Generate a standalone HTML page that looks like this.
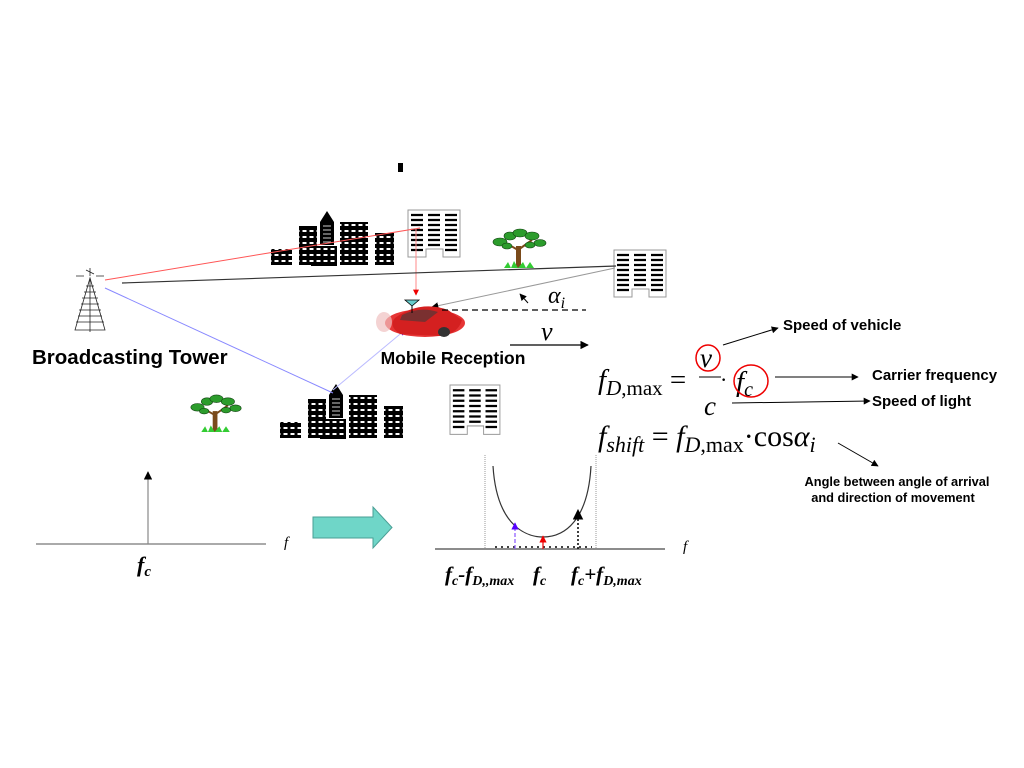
<!DOCTYPE html>
<html><head><meta charset="utf-8"><style>
html,body{margin:0;padding:0;background:#fff;}
svg{display:block;}
.b{font-family:"Liberation Sans",sans-serif;font-weight:bold;}
.m{font-family:"Liberation Serif",serif;}
</style></head><body>
<svg width="1024" height="768" viewBox="0 0 1024 768" xmlns="http://www.w3.org/2000/svg">
<defs>
<marker id="ah" viewBox="0 0 10 10" refX="9" refY="5" markerWidth="7" markerHeight="7" orient="auto"><path d="M0,0 L10,5 L0,10 z" fill="#000"/></marker>
<marker id="ahr" viewBox="0 0 10 10" refX="9" refY="5" markerWidth="6" markerHeight="6" orient="auto"><path d="M0,0 L10,5 L0,10 z" fill="#e00"/></marker>
<marker id="ahb" viewBox="0 0 10 10" refX="9" refY="5" markerWidth="6" markerHeight="6" orient="auto"><path d="M0,0 L10,5 L0,10 z" fill="#50f"/></marker>
<pattern id="win" width="7" height="6" patternUnits="userSpaceOnUse"><rect x="1.5" y="2" width="4" height="2" fill="#fff"/></pattern>
<g id="cluster">
<rect x="271" y="249" width="21" height="16" fill="#000"/><rect x="271" y="249" width="21" height="16" fill="url(#win)"/>
<rect x="299" y="226" width="18" height="39" fill="#000"/><rect x="299" y="226" width="18" height="39" fill="url(#win)"/>
<path d="M320,245 V222 L327,211 L334,222 V245 z" fill="#000"/>
<g stroke="#fff" stroke-width="0.8"><line x1="323" y1="226" x2="331" y2="226"/><line x1="323" y1="230" x2="331" y2="230"/><line x1="323" y1="234" x2="331" y2="234"/><line x1="323" y1="238" x2="331" y2="238"/><line x1="323" y1="242" x2="331" y2="242"/></g>
<rect x="311" y="246" width="26" height="20" fill="#000"/><rect x="311" y="246" width="26" height="20" fill="url(#win)"/>
<rect x="340" y="222" width="28" height="43" fill="#000"/><rect x="340" y="222" width="28" height="43" fill="url(#win)"/>
<rect x="375" y="233" width="19" height="32" fill="#000"/><rect x="375" y="233" width="19" height="32" fill="url(#win)"/>
</g>
<g id="white">
<path d="M0,0 H52 V47 H35 V39 H18 V47 H0 z" fill="#fff" stroke="#999" stroke-width="1"/>
<g stroke="#000" stroke-width="2.2">
<path d="M3,5H15M3,10H15M3,15H15M3,20H15M3,25H15M3,30H15M3,35H15M3,40H15"/>
<path d="M20,5H32M20,10H32M20,15H32M20,20H32M20,25H32M20,30H32M20,35H32"/>
<path d="M37,5H49M37,10H49M37,15H49M37,20H49M37,25H49M37,30H49M37,35H49M37,40H49"/>
</g>
</g>
<g id="tree">
<rect x="26" y="18" width="5" height="22" fill="#7a4a1a"/>
<path d="M28,22 L14,14 M28,22 L42,12" stroke="#7a4a1a" stroke-width="2"/>
<g fill="#2c9c2c" stroke="#104010" stroke-width="0.6">
<ellipse cx="10" cy="14" rx="7" ry="4"/><ellipse cx="20" cy="8" rx="6" ry="4"/><ellipse cx="30" cy="5" rx="7" ry="4"/><ellipse cx="42" cy="8" rx="7" ry="4"/><ellipse cx="50" cy="15" rx="6" ry="3.5"/><ellipse cx="17" cy="18" rx="5" ry="3"/><ellipse cx="40" cy="17" rx="5" ry="3"/>
</g>
<path d="M14,40 L18,34 L21,40 L24,33 L28,40 L33,34 L36,40 L40,34 L44,40 z" fill="#3c3"/>
</g>
</defs>

<rect x="398" y="163" width="5" height="9" fill="#000"/>

<use href="#cluster"/>
<use href="#cluster" transform="translate(9,173)"/>
<use href="#white" transform="translate(408,210)"/>
<use href="#white" transform="translate(614,250)"/>
<use href="#white" transform="translate(450,385) scale(0.96,1.05)"/>
<use href="#tree" transform="translate(490,228)"/>
<use href="#tree" transform="translate(188,394) scale(0.95)"/>

<line x1="105" y1="280" x2="420" y2="228" stroke="#f55" stroke-width="1"/>
<line x1="416" y1="228" x2="416" y2="295" stroke="#f88" stroke-width="1" marker-end="url(#ahr)"/>
<line x1="122" y1="283" x2="616" y2="266" stroke="#333" stroke-width="1.2"/>
<line x1="105" y1="288" x2="333" y2="393" stroke="#88f" stroke-width="1"/>
<line x1="333" y1="390" x2="405" y2="330" stroke="#bbf" stroke-width="1" marker-end="url(#ahb)"/>
<line x1="615" y1="268" x2="432" y2="307" stroke="#999" stroke-width="1" marker-end="url(#ah)"/>

<g stroke="#222" stroke-width="0.8" fill="none">
<path d="M90,278 L75,330 L105,330 z"/>
<line x1="90" y1="278" x2="90" y2="332"/>
<path d="M86,286H94 M84,292H96 M82,298H98 M81,304H99 M79,310H101 M78,316H102 M76,322H104"/>
<path d="M76,276H84 M96,276H104 M90,268V276 M86,270L94,274"/>
</g>
<text x="32" y="364" class="b" font-size="20.5">Broadcasting Tower</text>

<g>
<ellipse cx="425" cy="323" rx="40" ry="14" fill="#e63535"/>
<path d="M395,318 Q420,300 448,310 L462,320 Q458,334 440,336 L400,334 Q388,326 395,318z" fill="#d42020"/>
<path d="M402,315 Q420,306 438,312 L425,322 L400,320z" fill="#7a3030"/>
<ellipse cx="444" cy="332" rx="6" ry="5" fill="#333"/>
<ellipse cx="384" cy="322" rx="8" ry="10" fill="#f0c0c0" opacity="0.7"/>
<path d="M405,300 H419 L412,306z" fill="#6cc" stroke="#000" stroke-width="0.8"/>
<line x1="412" y1="306" x2="412" y2="313" stroke="#000"/>
</g>
<text x="453" y="364" class="b" font-size="17.5" text-anchor="middle">Mobile Reception</text>

<line x1="442" y1="310" x2="586" y2="310" stroke="#000" stroke-width="1.2" stroke-dasharray="6,4"/>
<line x1="528" y1="303" x2="520" y2="294" stroke="#000" stroke-width="1" marker-end="url(#ah)"/>
<text x="548" y="303" class="m" font-size="24" font-style="italic">α<tspan font-size="16" dy="5">i</tspan></text>
<text x="541" y="340" class="m" font-size="26" font-style="italic">v</text>
<line x1="510" y1="345" x2="588" y2="345" stroke="#000" stroke-width="1.2" marker-end="url(#ah)"/>

<text x="598" y="389" class="m" font-size="29" font-style="italic">f<tspan font-size="21" dy="6">D</tspan><tspan font-style="normal" font-size="21">,max</tspan><tspan dy="-6" font-style="normal"> =</tspan></text>
<text x="700" y="367" class="m" font-size="27" font-style="italic">v</text>
<line x1="699" y1="377" x2="721" y2="377" stroke="#000"/>
<text x="720" y="387" class="m" font-size="22">·</text>
<text x="736" y="391" class="m" font-size="29" font-style="italic">f<tspan font-size="20" dy="5">c</tspan></text>
<text x="704" y="415" class="m" font-size="27" font-style="italic">c</text>
<ellipse cx="708" cy="358" rx="12" ry="13" fill="none" stroke="#e00" stroke-width="1.5"/>
<ellipse cx="751" cy="381" rx="17" ry="16" fill="none" stroke="#e00" stroke-width="1.5"/>
<text x="598" y="446" class="m" font-size="30" font-style="italic">f<tspan font-size="22" dy="6">shift</tspan><tspan dy="-6" font-style="normal"> = </tspan>f<tspan font-size="22" dy="6">D</tspan><tspan font-style="normal" font-size="22">,max</tspan><tspan font-style="normal" dy="-6">·cos</tspan>α<tspan font-size="22" dy="6">i</tspan></text>

<line x1="723" y1="345" x2="778" y2="328" stroke="#000" stroke-width="1" marker-end="url(#ah)"/>
<text x="783" y="330" class="b" font-size="15">Speed of vehicle</text>
<line x1="775" y1="377" x2="858" y2="377" stroke="#000" stroke-width="1" marker-end="url(#ah)"/>
<text x="872" y="380" class="b" font-size="15">Carrier frequency</text>
<line x1="732" y1="403" x2="870" y2="401" stroke="#000" stroke-width="1" marker-end="url(#ah)"/>
<text x="872" y="406" class="b" font-size="15">Speed of light</text>
<line x1="838" y1="443" x2="878" y2="466" stroke="#000" stroke-width="1" marker-end="url(#ah)"/>
<text x="897" y="486" class="b" font-size="12.8" text-anchor="middle">Angle between angle of arrival</text>
<text x="893" y="502" class="b" font-size="12.8" text-anchor="middle">and direction of movement</text>

<line x1="36" y1="544" x2="266" y2="544" stroke="#777" stroke-width="1.2"/>
<line x1="148" y1="544" x2="148" y2="472" stroke="#888" stroke-width="1.2" marker-end="url(#ah)"/>
<text x="137" y="572" class="m" font-size="22" font-style="italic" font-weight="bold">f<tspan font-size="15" dy="4">c</tspan></text>
<text x="284" y="547" class="m" font-size="15" font-style="italic">f</text>

<path d="M313,517 H373 V507 L392,527.5 L373,548 V538 H313 z" fill="#6fd6c8" stroke="#4a9f95" stroke-width="1"/>

<line x1="485" y1="455" x2="485" y2="549" stroke="#999" stroke-width="1" stroke-dasharray="1,1"/>
<line x1="596" y1="455" x2="596" y2="549" stroke="#999" stroke-width="1" stroke-dasharray="1,1"/>
<line x1="435" y1="549" x2="665" y2="549" stroke="#666" stroke-width="1.5"/>
<path d="M493,466 C497,530 530,537 543,537 C565,537 588,520 591,466" fill="none" stroke="#333" stroke-width="1.2"/>
<line x1="495" y1="547" x2="592" y2="547" stroke="#000" stroke-width="1.5" stroke-dasharray="2,4"/>
<line x1="515" y1="549" x2="515" y2="523" stroke="#85f" stroke-width="1.2" stroke-dasharray="4,2" marker-end="url(#ahb)"/>
<line x1="543" y1="549" x2="543" y2="536" stroke="#e00" stroke-width="1.2" marker-end="url(#ahr)"/>
<line x1="578" y1="549" x2="578" y2="510" stroke="#000" stroke-width="1.5" stroke-dasharray="2,2" marker-end="url(#ah)"/>
<text x="683" y="551" class="m" font-size="15" font-style="italic">f</text>
<g class="m" font-style="italic" font-weight="bold" font-size="21">
<text x="445" y="581">f<tspan font-size="14" dy="4">c</tspan><tspan dy="-4">-f</tspan><tspan font-size="14" dy="4">D,,max</tspan></text>
<text x="533" y="581">f<tspan font-size="14" dy="4">c</tspan></text>
<text x="571" y="581">f<tspan font-size="14" dy="4">c</tspan><tspan dy="-4">+f</tspan><tspan font-size="14" dy="4">D,max</tspan></text>
</g>
</svg>
</body></html>
